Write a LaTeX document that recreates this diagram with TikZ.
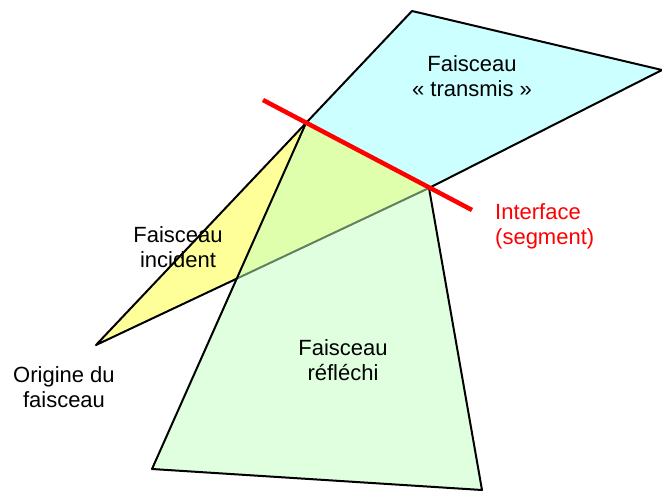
\documentclass[tikz,border=0pt]{standalone}
\usepackage{fontspec}
\setmainfont{Liberation Sans}
\definecolor{transcol}{RGB}{204,255,255}
\definecolor{inccol}{RGB}{255,255,153}
\definecolor{reflcol}{RGB}{192,255,192}
\begin{document}
\begin{tikzpicture}[x=1pt, y=-1pt, line join=round,
    beam/.style={draw=black, line width=2pt},
    lbl/.style={align=center, font=\fontsize{22}{25}\selectfont, inner sep=0pt}]
   \useasboundingbox (0,0) rectangle (662,491);
   % corners of the beams
   \coordinate (O) at (96,345);
   \coordinate (A) at (306,123);
   \coordinate (B) at (429,188);
   \coordinate (T1) at (412,11);
   \coordinate (T2) at (662,70);
   \coordinate (R1) at (152,469);
   \coordinate (R2) at (482,490);
   \coordinate (I1) at (263,100);
   \coordinate (I2) at (472,210);
   \draw[beam, fill=transcol] (A) -- (T1) -- (T2) -- (B) -- cycle;
   \draw[beam, fill=inccol] (O) -- (A) -- (B) -- cycle;
   \draw[beam, fill=reflcol, fill opacity=0.5] (A) -- (B) -- (R2) -- (R1) -- cycle;
   \draw[red, line width=4.5pt] (I1) -- (I2);
   \node[lbl] (transmis) at (472,76) {Faisceau\\« transmis »};
   \node[lbl] (incident) at (178,247) {Faisceau\\incident};
   \node[lbl] (origine) at (64,387) {Origine du\\faisceau};
   \node[lbl, red, align=left, anchor=west] (interface) at (495,226) {Interface\\(segment)};
   \node[lbl] (reflechi) at (343,360) {Faisceau\\réfléchi};
\end{tikzpicture}
\end{document}
